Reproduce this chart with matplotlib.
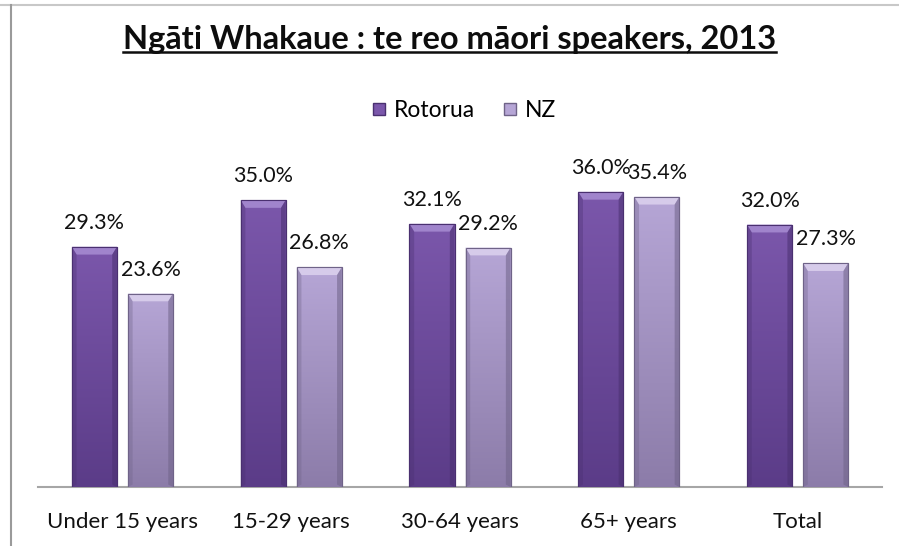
import numpy as np
import matplotlib.pyplot as plt
from matplotlib.patches import Polygon, Rectangle
from matplotlib.lines import Line2D
from matplotlib.colors import LinearSegmentedColormap

plt.rcParams['font.family'] = ['Lato', 'DejaVu Sans']

# Data
categories = ['Under 15 years', '15-29 years', '30-64 years', '65+ years', 'Total']
rotorua = [29.3, 35.0, 32.1, 36.0, 32.0]
nz = [23.6, 26.8, 29.2, 35.4, 27.3]
series_names = ['Rotorua', 'NZ']

# colours: (top, bottom, bevel highlight, edge)
styles = {
    'Rotorua': ('#7b57ab', '#5b3c88', '#a084cc', '#4a3070'),
    'NZ': ('#b6a6d6', '#8c7ca9', '#d6cbea', '#6f6388'),
}

fig = plt.figure(figsize=(8.99, 5.46), dpi=100)
ax = fig.add_axes([0.0423, 0.108, 0.9388, 0.6007])

x = np.arange(len(categories))
bar_width = 0.267
offset = 0.166


def shaded_bars(xpos, values, name):
    top_c, bot_c, hi_c, edge_c = styles[name]
    cmap = LinearSegmentedColormap.from_list(name, [bot_c, top_c])
    grad = np.linspace(0, 1, 256).reshape(-1, 1)
    bars = ax.bar(xpos, values, bar_width, color=top_c, edgecolor=edge_c,
                  linewidth=0.8, label=name, zorder=2)
    for bar in bars:
        x0 = bar.get_x()
        w = bar.get_width()
        h = bar.get_height()
        im = ax.imshow(grad, cmap=cmap, origin='lower', aspect='auto',
                       extent=[x0, x0 + w, 0, h], zorder=2.1)
        im.set_clip_path(bar)
        # bevel along the top and the sides
        bx = 0.028
        by = 0.95
        ax.add_patch(Polygon([[x0, h], [x0 + w, h], [x0 + w - bx, h - by],
                              [x0 + bx, h - by]], closed=True,
                             facecolor=hi_c, edgecolor='none', zorder=2.2))
        ax.add_patch(Polygon([[x0, 0], [x0, h], [x0 + bx, h - by],
                              [x0 + bx, 0.3]], closed=True,
                             facecolor=edge_c, alpha=0.35, edgecolor='none', zorder=2.2))
        ax.add_patch(Polygon([[x0 + w, 0], [x0 + w, h], [x0 + w - bx, h - by],
                              [x0 + w - bx, 0.3]], closed=True,
                             facecolor=edge_c, alpha=0.55, edgecolor='none', zorder=2.2))
        ax.add_patch(Rectangle((x0, 0), w, h, facecolor='none',
                               edgecolor=edge_c, linewidth=0.8, zorder=2.3))
        ax.annotate(f'{h:.1f}%', (x0 + w / 2, h), xytext=(0, 10),
                    textcoords='offset points', ha='center', va='bottom',
                    fontsize=15.5, color='#111111')
    return bars


shaded_bars(x - offset, rotorua, 'Rotorua')
shaded_bars(x + offset, nz, 'NZ')

ax.set_xlim(-0.5, len(categories) - 0.5)
ax.set_ylim(0, 40)
ax.set_yticks([])
ax.set_xticks(x)
ax.set_xticklabels(categories, fontsize=16, color='#111111')
ax.tick_params(axis='x', length=0, pad=18)
for side in ['top', 'right', 'left']:
    ax.spines[side].set_visible(False)
ax.spines['bottom'].set_color('#a6a6a6')
ax.spines['bottom'].set_linewidth(1.5)
ax.spines['bottom'].set_zorder(1)

# legend with small square swatches
handles = [Line2D([], [], marker='s', linestyle='none', markersize=9,
                  markerfacecolor=styles[n][0], markeredgecolor=styles[n][3],
                  label=n) for n in series_names]
fig.legend(handles=handles, loc='center', bbox_to_anchor=(0.515, 0.798),
           ncol=2, frameon=False, fontsize=16.5, handlelength=0.8,
           handletextpad=0.25, columnspacing=1.1)

title = fig.text(0.5, 0.927, 'Ngāti Whakaue : te reo māori speakers, 2013',
                 ha='center', va='center', fontsize=23.5, fontweight='bold',
                 color='#0d0d0d')

# underline the title
fig.canvas.draw()
bb = title.get_window_extent().transformed(fig.transFigure.inverted())
fig.add_artist(Line2D([bb.x0, bb.x1], [bb.y0 + 0.004, bb.y0 + 0.004],
                      transform=fig.transFigure, color='#0d0d0d', linewidth=1.8))

# chart frame edges
fig.add_artist(Line2D([0.0, 1.0], [0.99, 0.99], transform=fig.transFigure,
                      color='#c8c8c8', linewidth=1.5))
fig.add_artist(Line2D([0.012, 0.012], [0.0, 0.99], transform=fig.transFigure,
                      color='#9a9a9a', linewidth=1.5))

fig.savefig('out.png', dpi=100)
